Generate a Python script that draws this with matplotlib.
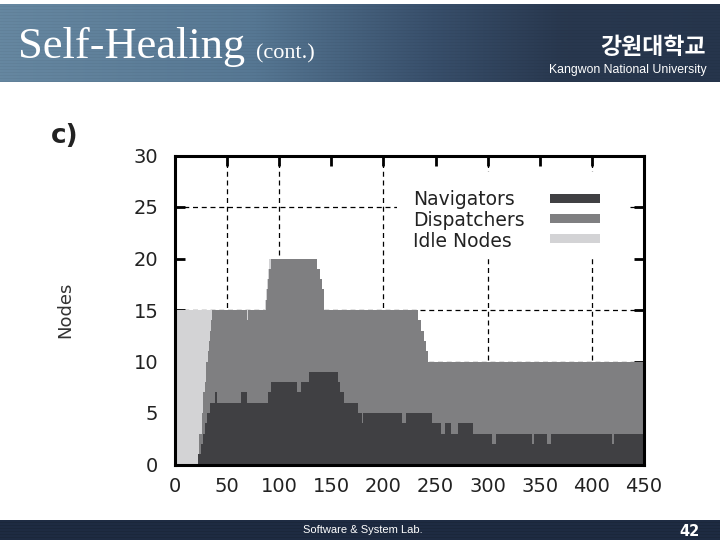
import matplotlib
matplotlib.use("Agg")
import matplotlib.pyplot as plt
import numpy as np
from matplotlib import font_manager
from matplotlib.patches import Rectangle

# valores (degraus: tempo de inicio -> valor)
nav_t = [0, 22.4, 24.7, 27.2, 28.8, 31, 33.6, 38.5, 40.7, 63.5, 69, 89.7, 92, 117, 120.8,
         128.2, 156, 158.7, 161.8, 175.3, 179.5, 180.5, 218, 222, 246.8, 254.8, 259, 265,
         271.5, 286.2, 304.5, 307.7, 342.6, 344, 357.4, 360.6, 419, 421.5, 450]
nav_v = [0, 1, 2, 3, 4, 5, 6, 7, 6, 7, 6, 7, 8, 7, 8,
         9, 8, 7, 6, 5, 4, 5, 4, 5, 4, 3, 4, 3,
         4, 3, 2, 3, 2, 3, 2, 3, 2, 3, 3]

# topo da pilha navigators + dispatchers
top_t = [0, 22, 23.5, 25.5, 27, 28.8, 30, 31.5, 32.5, 33.6, 34.5, 35.3, 69, 70,
         87.5, 88.5, 89.5, 90.5, 91.8, 136.2, 138.8, 141, 142.6, 233, 236.2, 238.6,
         241, 242.6, 450]
top_v = [0, 1, 3, 5, 7, 8, 10, 11, 12, 13, 14, 15, 14, 15,
         16, 17, 18, 19, 20, 19, 18, 17, 15, 14, 13, 12,
         11, 10, 10]

# total de nos
total_t = [0, 86.5, 87.5, 88.5, 89.5, 90.5, 136.2, 138.8, 141, 142.6, 233, 236.2,
           238.6, 241, 242.6, 450]
total_v = [15, 16, 17, 18, 19, 20, 19, 18, 17, 15, 14, 13,
           12, 11, 10, 10]

series_names = ['Navigators', 'Dispatchers', 'Idle Nodes']
series_colors = ['#404043', '#7f7f81', '#d3d3d5']

x_ticks = [0, 50, 100, 150, 200, 250, 300, 350, 400, 450]
y_ticks = [0, 5, 10, 15, 20, 25, 30]


def degrau(tb, vb, t):
    tb = np.array(tb)
    vb = np.array(vb)
    return vb[np.searchsorted(tb, t, side='right') - 1]


t = np.unique(np.concatenate([nav_t, top_t, total_t]))
navigators = degrau(nav_t, nav_v, t)
dispatchers = degrau(top_t, top_v, t) - navigators
idle = degrau(total_t, total_v, t) - navigators - dispatchers

names = {f.name for f in font_manager.fontManager.ttflist}
narrow = 'Liberation Sans Narrow' if 'Liberation Sans Narrow' in names else 'Liberation Sans'

W, H = 720, 540
fig = plt.figure(figsize=(7.2, 5.4), dpi=100)

# fundo do slide: faixa do titulo e rodape
bg = np.ones((H, W, 3))
xs = np.linspace(0, 1, W)
stops = [0, 0.35, 0.6, 0.78, 1.0]
cols = np.array([[0.40, 0.53, 0.63], [0.34, 0.47, 0.58], [0.22, 0.31, 0.42],
                 [0.16, 0.22, 0.31], [0.15, 0.21, 0.30]])
grad = np.stack([np.interp(xs, stops, cols[:, k]) for k in range(3)], axis=1)
for row in range(4, 82):
    f = 0.96 if row % 3 == 0 else 1.0
    bg[row] = grad * f
for row in range(520, 540):
    f = 0.9 if row % 3 == 0 else 1.0
    bg[row] = np.array([0.12, 0.17, 0.26]) * f
bax = fig.add_axes([0, 0, 1, 1])
bax.imshow(bg, extent=[0, W, H, 0], aspect='auto', interpolation='nearest')
bax.set_xlim(0, W)
bax.set_ylim(H, 0)
bax.axis('off')

fig.text(18 / W, 1 - 58 / H, 'Self-Healing', family='Liberation Serif', fontsize=32,
         color='white', va='baseline')
fig.text(256 / W, 1 - 58 / H, '(cont.)', family='Liberation Serif', fontsize=16,
         color='white', va='baseline')
fig.text(706 / W, 1 - 47 / H, '강원대학교', family=['Noto Sans CJK KR', 'DejaVu Sans'],
         fontsize=16.5, weight='bold', color='white', ha='right', va='center')
fig.text(707 / W, 1 - 70 / H, 'Kangwon National University', family=narrow,
         fontsize=10.5 if narrow.endswith('Narrow') else 8.8, color='white', ha='right', va='center')
fig.text(363 / W, 1 - 530 / H, 'Software & System Lab.', family=narrow,
         fontsize=9.5 if narrow.endswith('Narrow') else 8, color='white', ha='center', va='center')
fig.text(689 / W, 1 - 531 / H, '42', fontsize=10.5, weight='bold', color='white',
         ha='center', va='center')

fig.text(51 / W, 1 - 136 / H, 'c)', fontsize=19, weight='bold', color='#222222', va='center')
fig.text(65 / W, 1 - 310 / H, 'Nodes', fontsize=13, color='#333333', rotation=90,
         ha='center', va='center')

ax = fig.add_axes([175 / W, 1 - 464.5 / H, (644 - 175) / W, (464.5 - 155.5) / H])
ax.set_xlim(0, 450)
ax.set_ylim(0, 30)

base = np.zeros_like(t, dtype=float)
for vals, cor in zip([navigators, dispatchers, idle], series_colors):
    ax.fill_between(t, base, base + vals, step='post', color=cor, lw=0, zorder=3)
    base = base + vals

for gx in [50, 100, 200, 300, 400]:
    ax.axvline(gx, color='black', lw=0.9, ls=(0, (4, 3)), zorder=2)
for gy in [10, 15, 25]:
    ax.axhline(gy, color='black', lw=0.9, ls=(0, (4, 3)), zorder=2)

# legenda com fundo branco
ax.add_patch(Rectangle((213, 20.1), 221, 8.3, facecolor='white', edgecolor='none', zorder=5))
for i, (nome, cor) in enumerate(zip(series_names, series_colors)):
    ax.text(228.7, 25.19 - i * 2.02, nome, fontsize=13.5, color='#222222',
            va='baseline', zorder=6)
    ax.add_patch(Rectangle((359.8, 25.84 - i * 1.96 - 0.435), 48, 0.87,
                           facecolor=cor, edgecolor='none', zorder=6))

ax.set_xticks(x_ticks)
ax.set_yticks(y_ticks)
ax.tick_params(direction='in', length=7, width=2, top=True, right=True,
               labelsize=14, labelcolor='#222222')
ax.tick_params(axis='x', pad=9)
ax.tick_params(axis='y', pad=12)
for sp in ax.spines.values():
    sp.set_linewidth(2.2)
    sp.set_zorder(4)

fig.savefig('out.png', dpi=100)
